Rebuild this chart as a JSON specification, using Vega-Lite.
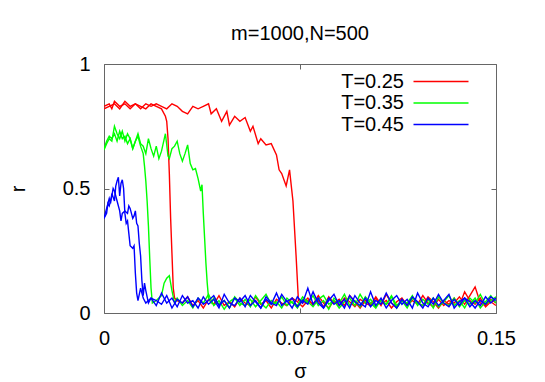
{
  "$schema": "https://vega.github.io/schema/vega-lite/v6.json",
  "width": 392,
  "height": 249,
  "autosize": {"type": "none"},
  "padding": {"left": 104, "top": 64, "right": 49, "bottom": 69},
  "background": "white",
  "config": {
    "font": "Liberation Sans",
    "view": {"stroke": "#666666", "strokeWidth": 1},
    "axis": {"grid": false, "domain": false, "labelFlush": false, "labelOverlap": false, "labelColor": "black", "labelFontSize": 20, "tickColor": "#666666", "tickWidth": 1, "titleFontSize": 20, "titleFontWeight": "normal", "titleColor": "black"}
  },
  "title": {"text": "m=1000,N=500", "fontSize": 20, "fontWeight": "normal", "color": "black", "anchor": "middle", "baseline": "alphabetic", "offset": 22, "dy": 28},
  "datasets": {
    "ra": [
      {"s":0,"r":0.83},{"s":0.002,"r":0.84},{"s":0.003,"r":0.82},{"s":0.004,"r":0.85},{"s":0.006,"r":0.83},{"s":0.008,"r":0.84},{"s":0.010,"r":0.82},{"s":0.012,"r":0.84},{"s":0.014,"r":0.83},{"s":0.016,"r":0.82},{"s":0.018,"r":0.84},{"s":0.020,"r":0.83},{"s":0.022,"r":0.82},{"s":0.0235,"r":0.79},{"s":0.024,"r":0.77},{"s":0.0245,"r":0.70},{"s":0.025,"r":0.56},{"s":0.0255,"r":0.38},{"s":0.026,"r":0.24},{"s":0.0265,"r":0.10},{"s":0.027,"r":0.06},{"s":0.028,"r":0.05},
      {"s":0.030,"r":0.04},{"s":0.032,"r":0.065},{"s":0.034,"r":0.03},{"s":0.036,"r":0.05},{"s":0.038,"r":0.02},{"s":0.040,"r":0.055},{"s":0.042,"r":0.035},{"s":0.044,"r":0.07},{"s":0.046,"r":0.03},{"s":0.048,"r":0.045},{"s":0.050,"r":0.025},{"s":0.052,"r":0.06},{"s":0.054,"r":0.04},{"s":0.056,"r":0.03},{"s":0.058,"r":0.065},{"s":0.060,"r":0.035},{"s":0.062,"r":0.05},{"s":0.064,"r":0.02},{"s":0.066,"r":0.055},{"s":0.068,"r":0.04},{"s":0.070,"r":0.03},{"s":0.072,"r":0.06},{"s":0.074,"r":0.045},{"s":0.076,"r":0.025},{"s":0.078,"r":0.05},{"s":0.080,"r":0.035},{"s":0.082,"r":0.07},{"s":0.084,"r":0.04},{"s":0.086,"r":0.02},{"s":0.088,"r":0.05},{"s":0.090,"r":0.03},{"s":0.092,"r":0.06},{"s":0.094,"r":0.045},{"s":0.096,"r":0.025},{"s":0.098,"r":0.055},{"s":0.100,"r":0.04},{"s":0.102,"r":0.03},{"s":0.104,"r":0.065},{"s":0.106,"r":0.035},{"s":0.108,"r":0.05},{"s":0.110,"r":0.02},{"s":0.112,"r":0.045},{"s":0.114,"r":0.06},{"s":0.116,"r":0.03},{"s":0.118,"r":0.05},{"s":0.120,"r":0.035},{"s":0.122,"r":0.07},{"s":0.124,"r":0.04},{"s":0.126,"r":0.025},{"s":0.128,"r":0.055},{"s":0.130,"r":0.03},{"s":0.132,"r":0.05},{"s":0.134,"r":0.04},{"s":0.136,"r":0.065},{"s":0.138,"r":0.035},{"s":0.140,"r":0.07},{"s":0.142,"r":0.105},{"s":0.144,"r":0.04},{"s":0.146,"r":0.03},{"s":0.148,"r":0.055},{"s":0.150,"r":0.04}
    ],
    "rb": [
      {"s":0,"r":0.82},{"s":0.002,"r":0.83},{"s":0.004,"r":0.84},{"s":0.006,"r":0.82},{"s":0.008,"r":0.85},{"s":0.010,"r":0.83},{"s":0.012,"r":0.84},{"s":0.014,"r":0.82},{"s":0.016,"r":0.84},{"s":0.018,"r":0.83},{"s":0.020,"r":0.84},{"s":0.022,"r":0.83},{"s":0.024,"r":0.82},{"s":0.026,"r":0.84},{"s":0.028,"r":0.83},{"s":0.030,"r":0.81},{"s":0.032,"r":0.80},{"s":0.034,"r":0.83},{"s":0.036,"r":0.82},{"s":0.038,"r":0.83},{"s":0.040,"r":0.84},{"s":0.041,"r":0.80},{"s":0.043,"r":0.82},{"s":0.045,"r":0.77},{"s":0.047,"r":0.81},{"s":0.048,"r":0.755},{"s":0.050,"r":0.79},{"s":0.052,"r":0.77},{"s":0.054,"r":0.785},{"s":0.056,"r":0.73},{"s":0.057,"r":0.75},{"s":0.059,"r":0.68},{"s":0.060,"r":0.70},{"s":0.062,"r":0.675},{"s":0.064,"r":0.68},{"s":0.066,"r":0.635},{"s":0.067,"r":0.575},{"s":0.068,"r":0.56},{"s":0.0697,"r":0.51},{"s":0.071,"r":0.575},{"s":0.0723,"r":0.45},{"s":0.0735,"r":0.23},{"s":0.0744,"r":0.05},
      {"s":0.076,"r":0.04},{"s":0.078,"r":0.06},{"s":0.080,"r":0.03},{"s":0.082,"r":0.05},{"s":0.084,"r":0.025},{"s":0.086,"r":0.065},{"s":0.088,"r":0.04},{"s":0.090,"r":0.055},{"s":0.092,"r":0.03},{"s":0.094,"r":0.07},{"s":0.096,"r":0.045},{"s":0.098,"r":0.02},{"s":0.100,"r":0.05},{"s":0.102,"r":0.035},{"s":0.104,"r":0.06},{"s":0.106,"r":0.03},{"s":0.108,"r":0.075},{"s":0.110,"r":0.04},{"s":0.112,"r":0.025},{"s":0.114,"r":0.055},{"s":0.116,"r":0.035},{"s":0.118,"r":0.06},{"s":0.120,"r":0.04},{"s":0.122,"r":0.03},{"s":0.124,"r":0.065},{"s":0.126,"r":0.045},{"s":0.128,"r":0.02},{"s":0.130,"r":0.05},{"s":0.132,"r":0.035},{"s":0.134,"r":0.06},{"s":0.136,"r":0.03},{"s":0.138,"r":0.085},{"s":0.140,"r":0.05},{"s":0.142,"r":0.035},{"s":0.144,"r":0.06},{"s":0.146,"r":0.025},{"s":0.148,"r":0.045},{"s":0.150,"r":0.03}
    ],
    "ga": [
      {"s":0,"r":0.655},{"s":0.001,"r":0.68},{"s":0.002,"r":0.70},{"s":0.003,"r":0.69},{"s":0.004,"r":0.75},{"s":0.005,"r":0.72},{"s":0.006,"r":0.70},{"s":0.007,"r":0.73},{"s":0.008,"r":0.69},{"s":0.009,"r":0.72},{"s":0.010,"r":0.70},{"s":0.011,"r":0.66},{"s":0.012,"r":0.69},{"s":0.013,"r":0.71},{"s":0.014,"r":0.67},{"s":0.015,"r":0.64},{"s":0.0155,"r":0.59},{"s":0.016,"r":0.53},{"s":0.0165,"r":0.45},{"s":0.017,"r":0.35},{"s":0.0175,"r":0.22},{"s":0.018,"r":0.10},{"s":0.0185,"r":0.04},{"s":0.020,"r":0.05},{"s":0.022,"r":0.07},{"s":0.023,"r":0.12},{"s":0.024,"r":0.14},{"s":0.025,"r":0.15},{"s":0.026,"r":0.09},{"s":0.027,"r":0.04},{"s":0.028,"r":0.06},
      {"s":0.030,"r":0.03},{"s":0.032,"r":0.05},{"s":0.034,"r":0.02},{"s":0.036,"r":0.06},{"s":0.038,"r":0.04},{"s":0.040,"r":0.075},{"s":0.042,"r":0.03},{"s":0.044,"r":0.05},{"s":0.046,"r":0.015},{"s":0.048,"r":0.045},{"s":0.050,"r":0.06},{"s":0.052,"r":0.03},{"s":0.054,"r":0.055},{"s":0.056,"r":0.025},{"s":0.058,"r":0.07},{"s":0.060,"r":0.04},{"s":0.062,"r":0.02},{"s":0.064,"r":0.05},{"s":0.066,"r":0.035},{"s":0.068,"r":0.065},{"s":0.070,"r":0.03},{"s":0.072,"r":0.045},{"s":0.074,"r":0.02},{"s":0.076,"r":0.055},{"s":0.078,"r":0.04},{"s":0.080,"r":0.07},{"s":0.082,"r":0.03},{"s":0.084,"r":0.05},{"s":0.086,"r":0.015},{"s":0.088,"r":0.06},{"s":0.090,"r":0.04},{"s":0.092,"r":0.075},{"s":0.094,"r":0.03},{"s":0.096,"r":0.05},{"s":0.098,"r":0.025},{"s":0.100,"r":0.065},{"s":0.102,"r":0.04},{"s":0.104,"r":0.02},{"s":0.106,"r":0.055},{"s":0.108,"r":0.035},{"s":0.110,"r":0.07},{"s":0.112,"r":0.03},{"s":0.114,"r":0.05},{"s":0.116,"r":0.02},{"s":0.118,"r":0.06},{"s":0.120,"r":0.04},{"s":0.122,"r":0.03},{"s":0.124,"r":0.055},{"s":0.126,"r":0.02},{"s":0.128,"r":0.065},{"s":0.130,"r":0.04},{"s":0.132,"r":0.03},{"s":0.134,"r":0.06},{"s":0.136,"r":0.025},{"s":0.138,"r":0.05},{"s":0.140,"r":0.035},{"s":0.142,"r":0.06},{"s":0.144,"r":0.02},{"s":0.146,"r":0.045},{"s":0.148,"r":0.07},{"s":0.150,"r":0.04}
    ],
    "gb": [
      {"s":0,"r":0.66},{"s":0.001,"r":0.69},{"s":0.002,"r":0.71},{"s":0.003,"r":0.70},{"s":0.004,"r":0.72},{"s":0.005,"r":0.69},{"s":0.006,"r":0.73},{"s":0.007,"r":0.70},{"s":0.008,"r":0.71},{"s":0.009,"r":0.68},{"s":0.010,"r":0.70},{"s":0.011,"r":0.66},{"s":0.012,"r":0.69},{"s":0.013,"r":0.72},{"s":0.014,"r":0.68},{"s":0.015,"r":0.67},{"s":0.016,"r":0.64},{"s":0.017,"r":0.70},{"s":0.018,"r":0.66},{"s":0.019,"r":0.63},{"s":0.020,"r":0.67},{"s":0.021,"r":0.62},{"s":0.022,"r":0.65},{"s":0.0235,"r":0.72},{"s":0.0245,"r":0.63},{"s":0.025,"r":0.62},{"s":0.026,"r":0.66},{"s":0.027,"r":0.67},{"s":0.028,"r":0.69},{"s":0.029,"r":0.64},{"s":0.030,"r":0.61},{"s":0.031,"r":0.64},{"s":0.032,"r":0.675},{"s":0.033,"r":0.60},{"s":0.034,"r":0.575},{"s":0.035,"r":0.58},{"s":0.036,"r":0.54},{"s":0.037,"r":0.49},{"s":0.0375,"r":0.515},{"s":0.038,"r":0.40},{"s":0.0385,"r":0.30},{"s":0.039,"r":0.20},{"s":0.0395,"r":0.12},{"s":0.040,"r":0.06},{"s":0.041,"r":0.04},
      {"s":0.042,"r":0.06},{"s":0.044,"r":0.035},{"s":0.046,"r":0.05},{"s":0.048,"r":0.02},{"s":0.050,"r":0.065},{"s":0.052,"r":0.04},{"s":0.054,"r":0.03},{"s":0.056,"r":0.055},{"s":0.058,"r":0.025},{"s":0.060,"r":0.05},{"s":0.062,"r":0.075},{"s":0.064,"r":0.035},{"s":0.066,"r":0.045},{"s":0.068,"r":0.02},{"s":0.070,"r":0.06},{"s":0.072,"r":0.04},{"s":0.074,"r":0.03},{"s":0.076,"r":0.065},{"s":0.078,"r":0.045},{"s":0.080,"r":0.025},{"s":0.082,"r":0.055},{"s":0.084,"r":0.07},{"s":0.086,"r":0.035},{"s":0.088,"r":0.05},{"s":0.090,"r":0.02},{"s":0.092,"r":0.045},{"s":0.094,"r":0.06},{"s":0.096,"r":0.03},{"s":0.098,"r":0.075},{"s":0.100,"r":0.04},{"s":0.102,"r":0.055},{"s":0.104,"r":0.025},{"s":0.106,"r":0.05},{"s":0.108,"r":0.035},{"s":0.110,"r":0.065},{"s":0.112,"r":0.02},{"s":0.114,"r":0.05},{"s":0.116,"r":0.04},{"s":0.118,"r":0.07},{"s":0.120,"r":0.03},{"s":0.122,"r":0.055},{"s":0.124,"r":0.035},{"s":0.126,"r":0.06},{"s":0.128,"r":0.025},{"s":0.130,"r":0.045},{"s":0.132,"r":0.07},{"s":0.134,"r":0.03},{"s":0.136,"r":0.05},{"s":0.138,"r":0.02},{"s":0.140,"r":0.06},{"s":0.142,"r":0.04},{"s":0.144,"r":0.075},{"s":0.146,"r":0.035},{"s":0.148,"r":0.05},{"s":0.150,"r":0.065}
    ],
    "ba": [
      {"s":0,"r":0.38},{"s":0.001,"r":0.42},{"s":0.002,"r":0.46},{"s":0.0025,"r":0.44},{"s":0.003,"r":0.48},{"s":0.004,"r":0.45},{"s":0.0045,"r":0.51},{"s":0.005,"r":0.53},{"s":0.0055,"r":0.545},{"s":0.006,"r":0.47},{"s":0.0065,"r":0.52},{"s":0.007,"r":0.535},{"s":0.0075,"r":0.50},{"s":0.008,"r":0.40},{"s":0.0085,"r":0.36},{"s":0.009,"r":0.37},{"s":0.0095,"r":0.32},{"s":0.010,"r":0.27},{"s":0.011,"r":0.26},{"s":0.0115,"r":0.27},{"s":0.012,"r":0.16},{"s":0.0125,"r":0.08},{"s":0.013,"r":0.05},{"s":0.014,"r":0.10},{"s":0.015,"r":0.06},{"s":0.016,"r":0.04},
      {"s":0.018,"r":0.06},{"s":0.020,"r":0.03},{"s":0.022,"r":0.08},{"s":0.024,"r":0.04},{"s":0.026,"r":0.06},{"s":0.028,"r":0.025},{"s":0.030,"r":0.07},{"s":0.032,"r":0.04},{"s":0.034,"r":0.05},{"s":0.036,"r":0.02},{"s":0.038,"r":0.065},{"s":0.040,"r":0.035},{"s":0.042,"r":0.055},{"s":0.044,"r":0.02},{"s":0.046,"r":0.075},{"s":0.048,"r":0.04},{"s":0.050,"r":0.03},{"s":0.052,"r":0.06},{"s":0.054,"r":0.025},{"s":0.056,"r":0.07},{"s":0.058,"r":0.045},{"s":0.060,"r":0.02},{"s":0.062,"r":0.055},{"s":0.064,"r":0.035},{"s":0.066,"r":0.08},{"s":0.068,"r":0.03},{"s":0.070,"r":0.05},{"s":0.072,"r":0.02},{"s":0.074,"r":0.065},{"s":0.076,"r":0.04},{"s":0.078,"r":0.10},{"s":0.080,"r":0.035},{"s":0.082,"r":0.06},{"s":0.084,"r":0.02},{"s":0.086,"r":0.05},{"s":0.088,"r":0.075},{"s":0.090,"r":0.03},{"s":0.092,"r":0.055},{"s":0.094,"r":0.02},{"s":0.096,"r":0.07},{"s":0.098,"r":0.04},{"s":0.100,"r":0.025},{"s":0.102,"r":0.085},{"s":0.104,"r":0.03},{"s":0.106,"r":0.06},{"s":0.108,"r":0.02},{"s":0.110,"r":0.05},{"s":0.112,"r":0.07},{"s":0.114,"r":0.035},{"s":0.116,"r":0.055},{"s":0.118,"r":0.02},{"s":0.120,"r":0.08},{"s":0.122,"r":0.04},{"s":0.124,"r":0.025},{"s":0.126,"r":0.06},{"s":0.128,"r":0.03},{"s":0.130,"r":0.05},{"s":0.132,"r":0.075},{"s":0.134,"r":0.02},{"s":0.136,"r":0.045},{"s":0.138,"r":0.06},{"s":0.140,"r":0.025},{"s":0.142,"r":0.05},{"s":0.144,"r":0.03},{"s":0.146,"r":0.065},{"s":0.148,"r":0.04},{"s":0.150,"r":0.06}
    ],
    "bb": [
      {"s":0,"r":0.38},{"s":0.001,"r":0.40},{"s":0.0015,"r":0.44},{"s":0.002,"r":0.43},{"s":0.003,"r":0.47},{"s":0.0035,"r":0.50},{"s":0.004,"r":0.49},{"s":0.005,"r":0.45},{"s":0.006,"r":0.41},{"s":0.0065,"r":0.37},{"s":0.007,"r":0.40},{"s":0.008,"r":0.41},{"s":0.009,"r":0.40},{"s":0.0095,"r":0.43},{"s":0.010,"r":0.42},{"s":0.011,"r":0.38},{"s":0.0115,"r":0.39},{"s":0.012,"r":0.41},{"s":0.0125,"r":0.36},{"s":0.013,"r":0.35},{"s":0.0135,"r":0.28},{"s":0.014,"r":0.23},{"s":0.0145,"r":0.13},{"s":0.015,"r":0.07},{"s":0.0155,"r":0.12},{"s":0.016,"r":0.09},{"s":0.017,"r":0.04},{"s":0.018,"r":0.06},
      {"s":0.020,"r":0.05},{"s":0.022,"r":0.035},{"s":0.024,"r":0.07},{"s":0.026,"r":0.02},{"s":0.028,"r":0.055},{"s":0.030,"r":0.04},{"s":0.032,"r":0.065},{"s":0.034,"r":0.025},{"s":0.036,"r":0.06},{"s":0.038,"r":0.035},{"s":0.040,"r":0.05},{"s":0.042,"r":0.07},{"s":0.044,"r":0.03},{"s":0.046,"r":0.05},{"s":0.048,"r":0.02},{"s":0.050,"r":0.06},{"s":0.052,"r":0.045},{"s":0.054,"r":0.07},{"s":0.056,"r":0.03},{"s":0.058,"r":0.05},{"s":0.060,"r":0.02},{"s":0.062,"r":0.065},{"s":0.064,"r":0.04},{"s":0.066,"r":0.03},{"s":0.068,"r":0.075},{"s":0.070,"r":0.045},{"s":0.072,"r":0.06},{"s":0.074,"r":0.025},{"s":0.076,"r":0.05},{"s":0.078,"r":0.035},{"s":0.080,"r":0.085},{"s":0.082,"r":0.04},{"s":0.084,"r":0.02},{"s":0.086,"r":0.06},{"s":0.088,"r":0.035},{"s":0.090,"r":0.05},{"s":0.092,"r":0.02},{"s":0.094,"r":0.07},{"s":0.096,"r":0.045},{"s":0.098,"r":0.03},{"s":0.100,"r":0.06},{"s":0.102,"r":0.025},{"s":0.104,"r":0.05},{"s":0.106,"r":0.035},{"s":0.108,"r":0.08},{"s":0.110,"r":0.04},{"s":0.112,"r":0.02},{"s":0.114,"r":0.055},{"s":0.116,"r":0.03},{"s":0.118,"r":0.065},{"s":0.120,"r":0.045},{"s":0.122,"r":0.02},{"s":0.124,"r":0.06},{"s":0.126,"r":0.035},{"s":0.128,"r":0.075},{"s":0.130,"r":0.04},{"s":0.132,"r":0.025},{"s":0.134,"r":0.055},{"s":0.136,"r":0.03},{"s":0.138,"r":0.06},{"s":0.140,"r":0.045},{"s":0.142,"r":0.02},{"s":0.144,"r":0.05},{"s":0.146,"r":0.035},{"s":0.148,"r":0.065},{"s":0.150,"r":0.05}
    ]
  },
  "layer": [
    {
      "data": {"name": "ra"},
      "mark": {"type": "line", "strokeWidth": 1.4, "clip": true},
      "encoding": {
        "x": {"field": "s", "type": "quantitative", "scale": {"domain": [0, 0.15], "nice": false, "zero": false},
              "axis": {"orient": "bottom", "values": [0, 0.075, 0.15], "labelExpr": "'' + datum.value", "tickSize": -5, "labelPadding": 36.5, "labelBaseline": "alphabetic", "labelDx": 3, "title": "σ", "titleBaseline": "alphabetic", "titleY": 64}},
        "y": {"field": "r", "type": "quantitative", "scale": {"domain": [0, 1], "nice": false},
              "axis": {"orient": "left", "values": [0, 0.5, 1], "labelExpr": "'' + datum.value", "tickSize": -5, "labelPadding": 19, "labelBaseline": "middle", "title": "r", "titleBaseline": "alphabetic", "titleX": -80, "titleY": 124.5, "titleAngle": 270}},
        "color": {"datum": "T=0.25", "scale": {"domain": ["T=0.25", "T=0.35", "T=0.45"], "range": ["#ff0000", "#00ff00", "#0000ff"]},
                  "legend": {"title": null, "orient": "none", "legendX": 327, "legendY": 7.5, "padding": 0, "symbolType": "M-5,0H5", "symbolSize": 121, "symbolStrokeWidth": 1.5, "symbolFillColor": "transparent", "labelFontSize": 20, "labelColor": "black", "labelAlign": "right", "labelOffset": -47, "rowPadding": 1.5,
                             "encode": {"symbols": {"update": {"stroke": {"scale": "color", "field": "value"}}}}}}
      }
    },
    {
      "data": {"name": "rb"},
      "mark": {"type": "line", "strokeWidth": 1.4, "clip": true},
      "encoding": {
        "x": {"field": "s", "type": "quantitative", "axis": {"orient": "top", "values": [0, 0.075, 0.15], "labels": false, "tickSize": -5, "title": null, "minExtent": 0, "maxExtent": 0}},
        "y": {"field": "r", "type": "quantitative", "axis": {"orient": "right", "values": [0, 0.5, 1], "labels": false, "tickSize": -5, "title": null, "minExtent": 0, "maxExtent": 0}},
        "color": {"datum": "T=0.25"}
      }
    },
    {
      "data": {"name": "ga"},
      "mark": {"type": "line", "strokeWidth": 1.4, "clip": true},
      "encoding": {
        "x": {"field": "s", "type": "quantitative", "axis": null},
        "y": {"field": "r", "type": "quantitative", "axis": null},
        "color": {"datum": "T=0.35"}
      }
    },
    {
      "data": {"name": "gb"},
      "mark": {"type": "line", "strokeWidth": 1.4, "clip": true},
      "encoding": {
        "x": {"field": "s", "type": "quantitative", "axis": null},
        "y": {"field": "r", "type": "quantitative", "axis": null},
        "color": {"datum": "T=0.35"}
      }
    },
    {
      "data": {"name": "ba"},
      "mark": {"type": "line", "strokeWidth": 1.4, "clip": true},
      "encoding": {
        "x": {"field": "s", "type": "quantitative", "axis": null},
        "y": {"field": "r", "type": "quantitative", "axis": null},
        "color": {"datum": "T=0.45"}
      }
    },
    {
      "data": {"name": "bb"},
      "mark": {"type": "line", "strokeWidth": 1.4, "clip": true},
      "encoding": {
        "x": {"field": "s", "type": "quantitative", "axis": null},
        "y": {"field": "r", "type": "quantitative", "axis": null},
        "color": {"datum": "T=0.45"}
      }
    }
  ],
  "resolve": {"axis": {"x": "independent", "y": "independent"}}
}
